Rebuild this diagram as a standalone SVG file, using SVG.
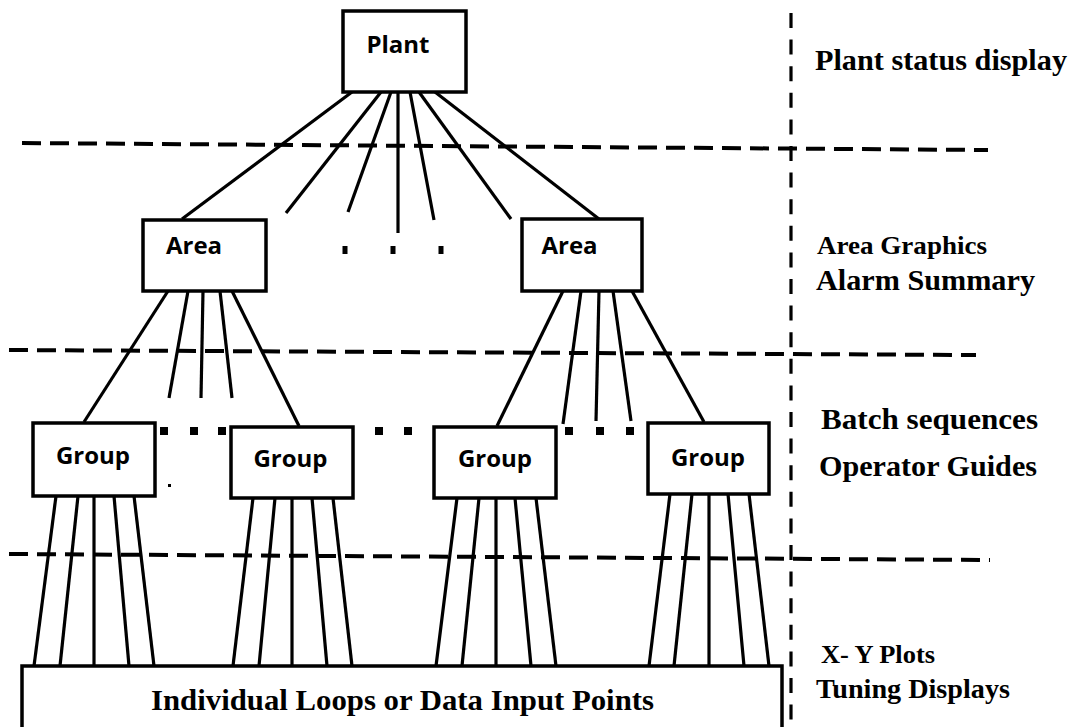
<svg xmlns="http://www.w3.org/2000/svg" width="1081" height="727" viewBox="0 0 1081 727">
<style>
.box{fill:#fff;stroke:#000;stroke-width:3.5}
.nt{font-family:"Open Sans","DejaVu Sans",sans-serif;font-weight:700;font-size:24px;fill:#000;text-anchor:middle}
.lt{font-family:"Liberation Serif","DejaVu Serif",serif;font-weight:700;fill:#000}
.ln{stroke:#000;stroke-width:3.2;fill:none;stroke-linecap:butt}
.hd{stroke:#000;stroke-width:4;fill:none;stroke-dasharray:19 9}
.vd{stroke:#000;stroke-width:3.2;fill:none;stroke-dasharray:15 11.6}
.dot{fill:#000}
</style>
<rect width="1081" height="727" fill="#fff"/>
<g id="separators">
<line class="hd" x1="22" y1="143" x2="988" y2="150"/>
<line class="hd" x1="9" y1="350" x2="976" y2="355"/>
<line class="hd" x1="9" y1="554" x2="990" y2="560"/>
<line class="vd" x1="791" y1="13" x2="791" y2="727"/>
</g>
<g id="connectors">
<line class="ln" x1="352" y1="92" x2="182" y2="219"/>
<line class="ln" x1="381" y1="92" x2="286" y2="213"/>
<line class="ln" x1="391" y1="92" x2="348" y2="212"/>
<line class="ln" x1="398" y1="92" x2="398" y2="233"/>
<line class="ln" x1="410" y1="92" x2="434" y2="220"/>
<line class="ln" x1="419" y1="92" x2="511" y2="219"/>
<line class="ln" x1="435" y1="92" x2="599" y2="219"/>
<line class="ln" x1="168" y1="291" x2="84" y2="422"/>
<line class="ln" x1="188" y1="291" x2="169" y2="398"/>
<line class="ln" x1="203" y1="291" x2="201" y2="398"/>
<line class="ln" x1="220" y1="291" x2="232" y2="398"/>
<line class="ln" x1="232" y1="291" x2="299" y2="426"/>
<line class="ln" x1="563" y1="291" x2="497" y2="426"/>
<line class="ln" x1="581" y1="291" x2="563" y2="424"/>
<line class="ln" x1="599" y1="291" x2="596" y2="421"/>
<line class="ln" x1="613" y1="291" x2="631" y2="421"/>
<line class="ln" x1="632" y1="291" x2="704" y2="422"/>
<line class="ln" x1="56" y1="496" x2="34" y2="666"/>
<line class="ln" x1="78" y1="496" x2="60" y2="666"/>
<line class="ln" x1="94" y1="496" x2="94" y2="666"/>
<line class="ln" x1="114" y1="496" x2="129" y2="666"/>
<line class="ln" x1="134" y1="496" x2="154" y2="666"/>
<line class="ln" x1="253" y1="498" x2="233" y2="666"/>
<line class="ln" x1="275" y1="498" x2="259" y2="666"/>
<line class="ln" x1="292" y1="498" x2="292" y2="666"/>
<line class="ln" x1="312" y1="498" x2="327" y2="666"/>
<line class="ln" x1="333" y1="498" x2="352" y2="666"/>
<line class="ln" x1="457" y1="498" x2="436" y2="666"/>
<line class="ln" x1="479" y1="498" x2="462" y2="666"/>
<line class="ln" x1="496" y1="498" x2="496" y2="666"/>
<line class="ln" x1="515" y1="498" x2="531" y2="666"/>
<line class="ln" x1="536" y1="498" x2="556" y2="666"/>
<line class="ln" x1="670" y1="494" x2="649" y2="666"/>
<line class="ln" x1="692" y1="494" x2="674" y2="666"/>
<line class="ln" x1="709" y1="494" x2="709" y2="666"/>
<line class="ln" x1="728" y1="494" x2="744" y2="666"/>
<line class="ln" x1="749" y1="494" x2="769" y2="666"/>
</g>
<g id="ellipses">
<rect class="dot" x="342.5" y="246" width="5" height="8"/>
<rect class="dot" x="390.5" y="246" width="5" height="8"/>
<rect class="dot" x="438.5" y="246" width="5" height="8"/>
<rect class="dot" x="160" y="427" width="8" height="8"/>
<rect class="dot" x="190" y="427" width="8" height="8"/>
<rect class="dot" x="218" y="427" width="8" height="8"/>
<rect class="dot" x="375" y="427" width="8" height="8"/>
<rect class="dot" x="404" y="427" width="8" height="8"/>
<rect class="dot" x="565" y="427" width="8" height="8"/>
<rect class="dot" x="596" y="427" width="8" height="8"/>
<rect class="dot" x="626" y="427" width="8" height="8"/>
<rect class="dot" x="168" y="484" width="3" height="3"/>
</g>
<g id="plant"><rect class="box" x="343" y="11" width="123" height="81"/><text class="nt" x="398" y="53">Plant</text></g>
<g id="area1"><rect class="box" x="143" y="220" width="123" height="71"/><text class="nt" x="194" y="254">Area</text></g>
<g id="area2"><rect class="box" x="522" y="219" width="120" height="72"/><text class="nt" x="569.5" y="254">Area</text></g>
<g id="group1"><rect class="box" x="33" y="423" width="122" height="73"/><text class="nt" x="93" y="464">Group</text></g>
<g id="group2"><rect class="box" x="231" y="427" width="122" height="71"/><text class="nt" x="290.5" y="467">Group</text></g>
<g id="group3"><rect class="box" x="434" y="427" width="122" height="71"/><text class="nt" x="495" y="467">Group</text></g>
<g id="group4"><rect class="box" x="648" y="423" width="121" height="71"/><text class="nt" x="708" y="466">Group</text></g>
<g id="loops"><rect class="box" x="22" y="666" width="760" height="75"/><text class="lt" x="151" y="710" font-size="30" textLength="503" lengthAdjust="spacingAndGlyphs">Individual Loops or Data Input Points</text></g>
<g id="labels">
<text class="lt" x="815" y="70" font-size="29" textLength="252" lengthAdjust="spacingAndGlyphs">Plant status display</text>
<text class="lt" x="817" y="254" font-size="26" textLength="170" lengthAdjust="spacingAndGlyphs">Area Graphics</text>
<text class="lt" x="816" y="290" font-size="29" textLength="219" lengthAdjust="spacingAndGlyphs">Alarm Summary</text>
<text class="lt" x="821" y="429" font-size="29" textLength="217" lengthAdjust="spacingAndGlyphs">Batch sequences</text>
<text class="lt" x="819" y="476" font-size="29" textLength="218" lengthAdjust="spacingAndGlyphs">Operator Guides</text>
<text class="lt" x="821" y="663" font-size="26" textLength="114" lengthAdjust="spacingAndGlyphs">X- Y Plots</text>
<text class="lt" x="816" y="698" font-size="27" textLength="194" lengthAdjust="spacingAndGlyphs">Tuning Displays</text>
</g>
</svg>
